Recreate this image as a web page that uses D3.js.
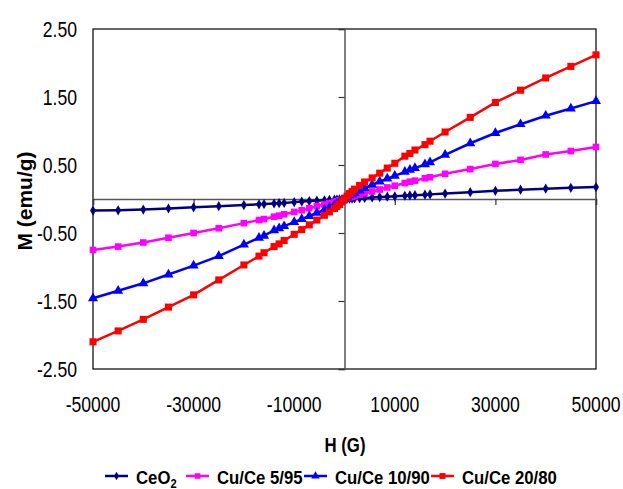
<!DOCTYPE html>
<html>
<head>
<meta charset="utf-8">
<script src="https://cdn.jsdelivr.net/npm/d3@7"></script>
<style>
  body { margin: 0; background: #fff; }
  svg { display: block; font-family: "Liberation Sans", Arial, sans-serif; }
</style>
</head>
<body>
<svg id="chart"></svg>
<script>
const outerWidth = 623;
const outerHeight = 489;
const plot = {left: 93, top: 29, right: 596, bottom: 369};

// field values (G)
const H = [-50000, -45000, -40000, -35000, -30000, -25000, -20000, -17000, -16000, -14000, -13000, -12000,
  -10000, -8500, -7000, -5500, -4000, -3000, -2000, -1500, -1000, -500, 0, 500, 1000, 1500, 2000, 3000,
  4000, 5500, 7000, 8500, 10000, 12000, 13000, 14000, 16000, 17000, 20000, 25000, 30000, 35000, 40000,
  45000, 50000];

// magnetisation (emu/g)
const ceo2 = [-0.17, -0.166, -0.155, -0.14, -0.122, -0.105, -0.09, -0.078, -0.074, -0.066, -0.062, -0.058,
  -0.046, -0.038, -0.03, -0.024, -0.018, -0.013, -0.009, -0.007, -0.005, -0.002, 0, 0.002, 0.004, 0.006,
  0.008, 0.012, 0.016, 0.022, 0.028, 0.034, 0.04, 0.048, 0.052, 0.056, 0.064, 0.068, 0.08, 0.1, 0.12,
  0.137, 0.152, 0.165, 0.175];
const cu5 = [-0.75, -0.70, -0.64, -0.57, -0.50, -0.43, -0.355, -0.31, -0.295, -0.26, -0.245, -0.225,
  -0.19, -0.165, -0.135, -0.105, -0.08, -0.06, -0.04, -0.03, -0.02, -0.01, 0, 0.012, 0.025, 0.035,
  0.045, 0.065, 0.085, 0.11, 0.14, 0.17, 0.195, 0.235, 0.255, 0.27, 0.305, 0.32, 0.37, 0.44, 0.515,
  0.575, 0.655, 0.705, 0.765];
const cu10 = [-1.46, -1.35, -1.24, -1.11, -0.98, -0.84, -0.67, -0.57, -0.54, -0.46, -0.43, -0.40,
  -0.34, -0.295, -0.25, -0.205, -0.16, -0.125, -0.09, -0.07, -0.05, -0.025, 0, 0.025, 0.05, 0.07,
  0.09, 0.125, 0.16, 0.21, 0.255, 0.30, 0.34, 0.40, 0.43, 0.455, 0.51, 0.54, 0.65, 0.82, 0.97,
  1.10, 1.225, 1.33, 1.44];
const cu20 = [-2.10, -1.94, -1.77, -1.59, -1.41, -1.19, -0.97, -0.84, -0.79, -0.70, -0.66, -0.61,
  -0.52, -0.45, -0.38, -0.31, -0.24, -0.19, -0.14, -0.11, -0.08, -0.04, 0, 0.04, 0.08, 0.11,
  0.145, 0.20, 0.25, 0.31, 0.38, 0.455, 0.525, 0.63, 0.67, 0.72, 0.80, 0.85, 0.985, 1.20, 1.42,
  1.60, 1.78, 1.95, 2.12];

const xTicks = [-50000, -30000, -10000, 10000, 30000, 50000];
const yTicks = [-2.5, -1.5, -0.5, 0.5, 1.5, 2.5];

const series = [
  {name: "CeO2", values: ceo2, color: "#000080", symbol: d3.symbolDiamond, size: 30},
  {name: "Cu/Ce 5/95", values: cu5, color: "#FF00FF", symbol: d3.symbolSquare, size: 44},
  {name: "Cu/Ce 10/90", values: cu10, color: "#0000FF", symbol: d3.symbolTriangle, size: 44},
  {name: "Cu/Ce 20/80", values: cu20, color: "#FF0000", symbol: d3.symbolSquare, size: 50}
];

const x = d3.scaleLinear().domain([-50000, 50000]).range([plot.left, plot.right]);
const y = d3.scaleLinear().domain([-2.5, 2.5]).range([plot.bottom, plot.top]);

const svg = d3.select("#chart").attr("width", outerWidth).attr("height", outerHeight);

// plot frame
svg.append("rect")
  .attr("x", plot.left).attr("y", plot.top)
  .attr("width", plot.right - plot.left).attr("height", plot.bottom - plot.top)
  .attr("fill", "none").attr("stroke", "#000").attr("stroke-width", 1.2);

// axes through zero
const yAxis = svg.append("g")
  .attr("transform", "translate(" + x(0) + ",0)")
  .call(d3.axisLeft(y).tickValues(yTicks).tickSize(6).tickFormat(""));
const xAxis = svg.append("g")
  .attr("transform", "translate(0," + y(0) + ")")
  .call(d3.axisBottom(x).tickValues(xTicks).tickSize(6).tickFormat(""));
[xAxis, yAxis].forEach(a => {
  a.select(".domain").attr("stroke", "#555").attr("stroke-width", 1.5);
  a.selectAll(".tick line").attr("stroke", "#333").attr("stroke-width", 1.2);
});

// condensed text helper
function label(text, px, py, opts) {
  const t = svg.append("text")
    .attr("transform", "translate(" + px + "," + py + ") " + (opts.rotate ? "rotate(-90) " : "") + "scale(" + (opts.sx || 1) + ",1)")
    .attr("text-anchor", opts.anchor || "middle")
    .attr("font-size", opts.size)
    .attr("font-weight", opts.bold ? "bold" : "normal")
    .attr("fill", "#000")
    .text(text);
  return t;
}

yTicks.forEach(v => label(v.toFixed(2), 77, y(v) + 8, {size: 22, sx: 0.8, anchor: "end"}));
xTicks.forEach(v => label(String(v), x(v), 412, {size: 22, sx: 0.8}));

label("H (G)", 345, 452, {size: 21, sx: 0.8, bold: true});
label("M (emu/g)", 32, 201, {size: 21, bold: true, rotate: true});

// series
const line = d3.line().x((d, i) => x(H[i])).y(d => y(d));
series.forEach(s => {
  const g = svg.append("g");
  g.append("path")
    .datum(s.values)
    .attr("d", line)
    .attr("fill", "none")
    .attr("stroke", s.color)
    .attr("stroke-width", 2.5);
  g.selectAll("path.m")
    .data(s.values)
    .enter()
    .append("path")
    .attr("class", "m")
    .attr("transform", (d, i) => "translate(" + x(H[i]) + "," + y(d) + ")")
    .attr("d", d3.symbol().type(s.symbol).size(s.size))
    .attr("fill", s.color);
});

// legend
const legendX = [105, 186, 304, 431];
const legendY = 476;
series.forEach((s, i) => {
  const g = svg.append("g").attr("transform", "translate(" + legendX[i] + "," + legendY + ")");
  g.append("line").attr("x1", 0).attr("x2", 23).attr("y1", 0).attr("y2", 0)
    .attr("stroke", s.color).attr("stroke-width", 2.5);
  g.append("path").attr("transform", "translate(11.5,0)")
    .attr("d", d3.symbol().type(s.symbol).size(s.size * 0.7))
    .attr("fill", s.color);
  const t = g.append("text")
    .attr("transform", "translate(31,8) scale(0.93,1)")
    .attr("font-size", 18).attr("font-weight", "bold");
  if (s.name === "CeO2") {
    t.append("tspan").text("CeO");
    t.append("tspan").attr("font-size", 12).attr("dy", 3.5).text("2");
  } else {
    t.text(s.name);
  }
});
</script>
</body>
</html>
